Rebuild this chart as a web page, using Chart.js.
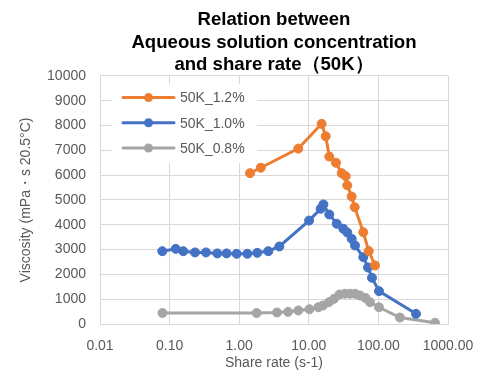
<!DOCTYPE html>
<html>
<head>
<meta charset="utf-8">
<title>Relation between Aqueous solution concentration and share rate (50K)</title>
<script src="https://cdn.jsdelivr.net/npm/chart.js@4/dist/chart.umd.min.js"></script>
<style>
    html, body { margin: 0; padding: 0; background: #fff; }
    #chartWrap { width: 489px; height: 370px; }
</style>
</head>
<body>
<div id="chartWrap"><canvas id="viscosityChart"></canvas></div>
<script>
// Series labels and colours
const seriesLabels = ['50K_1.2%', '50K_1.0%', '50K_0.8%'];
const seriesColors = ['#ED7D31', '#4472C4', '#A5A5A5'];

// 50K_1.2%
const rate12 = [1.43, 2.04, 7.06, 15.3, 17.5, 19.7, 24.6, 29.7, 33.9, 35.7, 41.3, 45.6, 60.7, 72.6, 89.4];
const visc12 = [6080, 6300, 7070, 8070, 7570, 6750, 6500, 6080, 5960, 5590, 5140, 4710, 3700, 2940, 2360];

// 50K_1.0%
const rate10 = [0.0785, 0.1225, 0.157, 0.232, 0.333, 0.484, 0.66, 0.92, 1.31, 1.82, 2.62, 3.77,
    10.1, 14.8, 16.2, 19.7, 25.2, 31.3, 35.7, 41.3, 46.1, 60.7, 70.9, 80.9, 102, 347];
const visc10 = [2935, 3030, 2935, 2885, 2885, 2845, 2845, 2830, 2830, 2870, 2935, 3125,
    4170, 4645, 4820, 4415, 4040, 3840, 3690, 3435, 3165, 2695, 2280, 1865, 1325, 410];

// 50K_0.8%
const rate08 = [0.079, 1.78, 3.49, 5.03, 7.06, 10.2, 13.7, 16.0, 19.5, 23.0, 27.6, 33.1, 39.1, 46.1,
    54.4, 65.3, 75.7, 102, 204, 650];
const visc08 = [445, 445, 465, 490, 545, 595, 675, 745, 880, 1015, 1190, 1220, 1220, 1220,
    1150, 1050, 880, 675, 260, 50];

// Axis ticks
const xTickValues = [0.01, 0.1, 1, 10, 100, 1000];
const xTickLabels = ['0.01', '0.10', '1.00', '10.00', '100.00', '1000.00'];
const yTickMin = 0;
const yTickMax = 10000;
const yTickStep = 1000;

const chartTitle = ['Relation between', 'Aqueous solution concentration', 'and share rate（50K）'];
const xAxisTitle = 'Share rate (s-1)';
const yAxisTitle = 'Viscosity (mPa・s 20.5°C)';

const gridColor = '#D9D9D9';
const textColor = '#595959';
const fontFamily = "'Liberation Sans', Arial, sans-serif";

document.addEventListener('DOMContentLoaded', function() {
    createViscosityChart();
});

// Pair up x and y arrays into points
function toPoints(xs, ys) {
    return xs.map((x, i) => ({ x: x, y: ys[i] }));
}

// Legend drawn inside the plot, on a white box over the grid
const insideLegend = {
    id: 'insideLegend',
    beforeDatasetsDraw(chart) {
        const { ctx, chartArea } = chart;
        const left = chartArea.left;
        const top = chartArea.top;

        ctx.save();
        ctx.fillStyle = '#ffffff';
        ctx.fillRect(left + 12, top + 8, 145, 79);

        chart.data.datasets.forEach((ds, i) => {
            const y = top + 21.6 + i * 25.2;
            ctx.strokeStyle = ds.borderColor;
            ctx.lineWidth = 3;
            ctx.lineCap = 'round';
            ctx.beginPath();
            ctx.moveTo(left + 23, y);
            ctx.lineTo(left + 74, y);
            ctx.stroke();

            ctx.fillStyle = ds.borderColor;
            ctx.beginPath();
            ctx.arc(left + 48.5, y, 4.5, 0, Math.PI * 2);
            ctx.fill();

            ctx.fillStyle = textColor;
            ctx.font = '14px ' + fontFamily;
            ctx.textBaseline = 'middle';
            ctx.textAlign = 'left';
            ctx.fillText(ds.label, left + 80, y + 1);
        });
        ctx.restore();
    }
};

// Create chart
function createViscosityChart() {
    const ctx = document.getElementById('viscosityChart').getContext('2d');

    const seriesData = [
        toPoints(rate12, visc12),
        toPoints(rate10, visc10),
        toPoints(rate08, visc08)
    ];

    const datasets = seriesData.map((points, i) => ({
        label: seriesLabels[i],
        data: points,
        borderColor: seriesColors[i],
        backgroundColor: seriesColors[i],
        pointBackgroundColor: seriesColors[i],
        pointBorderColor: seriesColors[i],
        borderWidth: 3,
        pointRadius: 4.5,
        pointHoverRadius: 4.5,
        pointBorderWidth: 1,
        tension: 0
    }));

    new Chart(ctx, {
        type: 'line',
        data: { datasets: datasets },
        plugins: [insideLegend],
        options: {
            responsive: true,
            maintainAspectRatio: false,
            animation: false,
            layout: {
                padding: { left: 0, right: 41, top: 0, bottom: 0 }
            },
            plugins: {
                legend: { display: false },
                tooltip: { enabled: false },
                title: {
                    display: true,
                    fullSize: false,
                    text: chartTitle,
                    color: '#000000',
                    font: { family: fontFamily, size: 18.6, weight: 'bold', lineHeight: 1.2 },
                    padding: { top: 9, bottom: 0 }
                }
            },
            scales: {
                x: {
                    type: 'logarithmic',
                    min: xTickValues[0],
                    max: xTickValues[xTickValues.length - 1],
                    afterBuildTicks: function(scale) {
                        scale.ticks = xTickValues.map(v => ({ value: v }));
                    },
                    afterFit: function(scale) {
                        scale.height = 46;
                    },
                    ticks: {
                        color: textColor,
                        font: { family: fontFamily, size: 14 },
                        padding: 14,
                        maxRotation: 0,
                        autoSkip: false,
                        callback: function(value, index) {
                            return xTickLabels[index];
                        }
                    },
                    grid: { color: gridColor, drawTicks: false },
                    border: { color: gridColor },
                    title: {
                        display: true,
                        text: xAxisTitle,
                        color: textColor,
                        font: { family: fontFamily, size: 14, lineHeight: 1.0 },
                        padding: { top: 0, bottom: 0 }
                    }
                },
                y: {
                    min: yTickMin,
                    max: yTickMax,
                    afterFit: function(scale) {
                        scale.width = 100;
                    },
                    ticks: {
                        stepSize: yTickStep,
                        color: textColor,
                        font: { family: fontFamily, size: 14 },
                        padding: 14,
                        callback: function(value) {
                            return String(value);
                        }
                    },
                    grid: { color: gridColor, drawTicks: false },
                    border: { color: gridColor },
                    title: {
                        display: true,
                        text: yAxisTitle,
                        color: textColor,
                        font: { family: fontFamily, size: 14 },
                        padding: { top: 18, bottom: 0 }
                    }
                }
            }
        }
    });
}
</script>
</body>
</html>
